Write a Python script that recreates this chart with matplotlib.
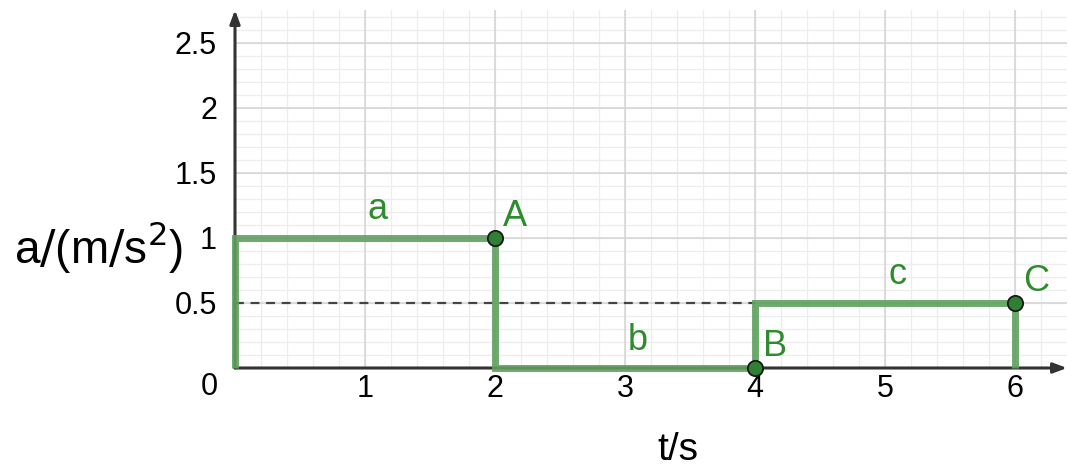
import matplotlib.pyplot as plt
import numpy as np

# 加速度-时间图 (分段常数)
t_edges = [0, 2, 4, 6]
acc = [1, 0, 0.5]
seg_names = ["a", "b", "c"]
pt_names = ["A", "B", "C"]
pt_t = [2, 4, 6]
pt_a = [1, 0, 0.5]

xmax, ymax = 6.4, 2.75
green = "#5fa05f"
text_green = "#2e8b2e"

plt.rcParams['font.family'] = ['Liberation Sans', 'DejaVu Sans']
plt.rcParams['mathtext.fontset'] = 'dejavusans'

fig = plt.figure(figsize=(10.7, 4.71), dpi=100)
ax = fig.add_axes([235 / 1070, 103 / 471, 832 / 1070, 358 / 471])
ax.set_xlim(0, xmax)
ax.set_ylim(0, ymax)

# 网格: 细网格 x 0.2, y 0.1; 主网格 x 1, y 0.5
for x in np.arange(0.2, xmax, 0.2):
    ax.axvline(x, color="#ededed", lw=0.9, zorder=0)
for y in np.arange(0.1, ymax, 0.1):
    ax.axhline(y, color="#ededed", lw=0.9, zorder=0)
for x in range(1, 7):
    ax.axvline(x, color="#d4d4d4", lw=1.1, zorder=0)
for y in np.arange(0.5, ymax, 0.5):
    ax.axhline(y, color="#d4d4d4", lw=1.1, zorder=0)

for s in ax.spines.values():
    s.set_visible(False)
ax.tick_params(length=0, labelsize=22)
ax.tick_params(axis="x", pad=4)
ax.tick_params(axis="y", pad=13)
ax.set_xticks([1, 2, 3, 4, 5, 6])
ax.set_yticks([0.5, 1, 1.5, 2, 2.5])
ax.set_yticklabels(["0.5", "1", "1.5", "2", "2.5"])

# 坐标轴箭头
ax.annotate("", xy=(xmax, 0), xytext=(0, 0), annotation_clip=False,
            arrowprops=dict(arrowstyle="-|>,head_length=0.8,head_width=0.3",
                            color="#333333", lw=2.2, shrinkA=0, shrinkB=0), zorder=3)
ax.annotate("", xy=(0, ymax), xytext=(0, 0), annotation_clip=False,
            arrowprops=dict(arrowstyle="-|>,head_length=0.8,head_width=0.3",
                            color="#333333", lw=2.2, shrinkA=0, shrinkB=0), zorder=3)
ax.text(-0.13, -0.03, "0", fontsize=22, ha="right", va="top")

# 0.5 虚线
ax.plot([0, 4], [0.5, 0.5], color="#444444", lw=1.6, ls=(0, (4, 3)), zorder=2)

# 分段折线
xs, ys = [0], [0]
for i in range(len(acc)):
    xs += [t_edges[i], t_edges[i + 1]]
    ys += [acc[i], acc[i]]
xs.append(t_edges[-1])
ys.append(0)
ax.plot(xs, ys, color=green, lw=5, alpha=0.9, solid_capstyle="butt",
        solid_joinstyle="miter", clip_on=False, zorder=4)

ax.plot(pt_t, pt_a, "o", ms=11, color="#2f7f34", mec="#1a1a1a", mew=1.3,
        clip_on=False, zorder=6)

# 标注
for i, name in enumerate(seg_names):
    mid = (t_edges[i] + t_edges[i + 1]) / 2
    ax.text(mid + 0.1, acc[i] + 0.08, name, fontsize=26, color=text_green,
            ha="center", va="bottom")
for x, y, name in zip(pt_t, pt_a, pt_names):
    ax.text(x + 0.06, y + 0.03, name, fontsize=26, color=text_green,
            ha="left", va="bottom")

fig.text(99 / 1070, 1 - 247 / 471, r"a$/$(m$/$s$^2$)", fontsize=33,
         ha="center", va="center")
fig.text(678 / 1070, 1 - 450 / 471, "t/s", fontsize=28, ha="center", va="center")

fig.savefig("out.png", dpi=100)
